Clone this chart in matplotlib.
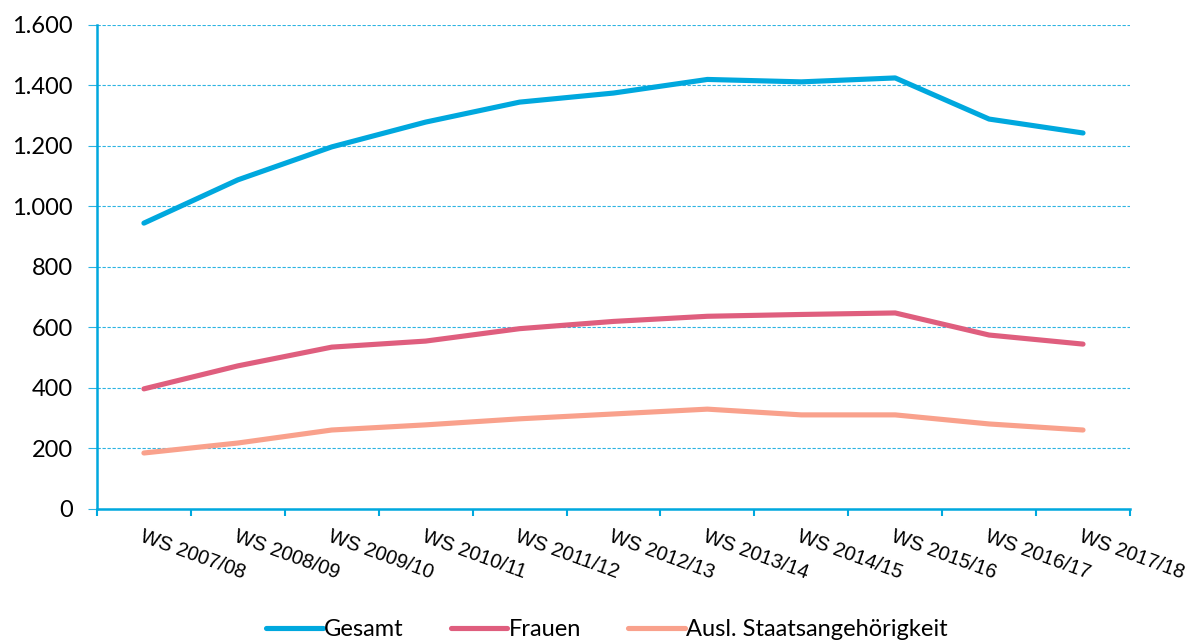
import matplotlib
import matplotlib.pyplot as plt
from matplotlib.ticker import FuncFormatter, FixedLocator

matplotlib.use("Agg")

BLUE = "#00A8DE"
PINK = "#DF5E7E"
SALMON = "#F9A18C"
GRID = "#2DB4E2"

SEMESTERS = [
    "WS 2007/08", "WS 2008/09", "WS 2009/10", "WS 2010/11", "WS 2011/12",
    "WS 2012/13", "WS 2013/14", "WS 2014/15", "WS 2015/16", "WS 2016/17",
    "WS 2017/18",
]
GESAMT = [945, 1088, 1197, 1279, 1345, 1375, 1420, 1412, 1425, 1289, 1243]
FRAUEN = [397, 473, 535, 555, 596, 620, 637, 643, 648, 575, 545]
AUSL = [185, 218, 261, 278, 298, 314, 330, 311, 311, 281, 261]

fig = plt.figure(figsize=(11.97, 6.41), dpi=100)
ax = fig.add_axes([0.081, 0.206, 0.863, 0.755])

x = list(range(len(SEMESTERS)))
ax.plot(x, GESAMT, color=BLUE, lw=3.7, solid_capstyle="round", label="Gesamt", zorder=3)
ax.plot(x, FRAUEN, color=PINK, lw=3.7, solid_capstyle="round", label="Frauen", zorder=3)
ax.plot(x, AUSL, color=SALMON, lw=3.7, solid_capstyle="round",
        label="Ausl. Staatsangehörigkeit", zorder=3)

ax.set_xlim(-0.5, len(SEMESTERS) - 0.5)
ax.set_ylim(0, 1600)
ax.set_yticks(range(0, 1601, 200))
ax.yaxis.set_major_formatter(FuncFormatter(lambda v, _: f"{int(v):,}".replace(",", ".")))

# category boundaries as major ticks, labels on minor ticks at the centres
ax.xaxis.set_major_locator(FixedLocator([i - 0.5 for i in range(len(SEMESTERS) + 1)]))
ax.xaxis.set_major_formatter(FuncFormatter(lambda v, _: ""))
ax.xaxis.set_minor_locator(FixedLocator(x))
ax.set_xticklabels(SEMESTERS, minor=True)
ax.tick_params(axis="x", which="minor", length=0, pad=13)
ax.tick_params(axis="x", which="major", length=5, color=BLUE, width=1.5)
ax.tick_params(axis="y", length=6.5, color=GRID, width=0.8, pad=11, labelsize=17)
for lab in ax.get_xticklabels(minor=True):
    lab.set_rotation(-20)
    lab.set_ha("left")
    lab.set_va("top")
    lab.set_rotation_mode("anchor")
    lab.set_fontfamily("Liberation Sans")
    lab.set_fontsize(14.5)
for lab in ax.get_yticklabels():
    lab.set_fontfamily("Lato")

ax.grid(axis="y", color=GRID, lw=0.8, linestyle=(0, (3, 1.5)))
ax.set_axisbelow(True)
for side in ("top", "right"):
    ax.spines[side].set_visible(False)
ax.spines["left"].set_color(BLUE)
ax.spines["bottom"].set_color(BLUE)
ax.spines["left"].set_linewidth(1.8)
ax.spines["bottom"].set_linewidth(1.8)

fig.legend(loc="lower center", bbox_to_anchor=(0.507, -0.032), ncol=3, frameon=False,
           handlelength=2.4, handletextpad=0.05, columnspacing=2.0,
           prop={"family": "Lato", "size": 17})

fig.savefig("out.png", dpi=100)
